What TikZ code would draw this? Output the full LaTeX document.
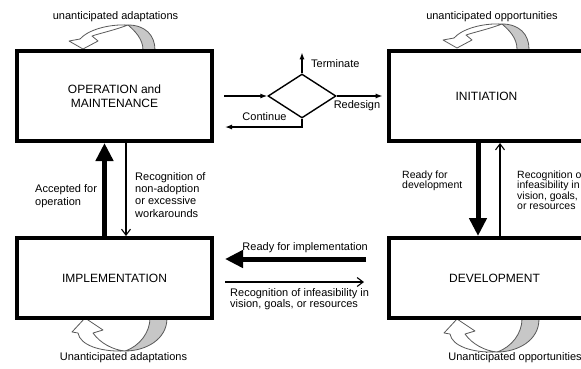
\documentclass[tikz,border=0pt]{standalone}
\usepackage{fontspec}
\setmainfont{Liberation Sans}
\usetikzlibrary{arrows.meta,shapes.geometric,calc}
\begin{document}
\begin{tikzpicture}[x=1pt,y=-1pt,
  box/.style={draw, line width=4pt, minimum width=195pt, inner sep=0pt, align=center, font=\fontsize{12}{14.5}\selectfont},
  lbl/.style={inner sep=0pt, align=left, font=\fontsize{11}{12.4}\selectfont},
  lblr/.style={inner sep=0pt, align=left, font=\fontsize{10.5}{10.5}\selectfont},
  thickarr/.style={line width=5pt, -{Triangle[length=18pt,width=17pt]}},
  thinarr/.style={line width=1.1pt, -{Straight Barb[length=6pt,width=9pt]}},
  smallarr/.style={line width=1.3pt, -{Latex[length=7pt,width=5pt]}},
  loopline/.style={draw=black!65, line width=0.8pt, line join=round},
  bottomloop/.pic={
    \fill[black!22] (65,-2) -- (65,0) .. controls (65,14) and (55,28) .. (40,33) .. controls (60,33) and (82,22) .. (82,0) -- (82,-2) -- cycle;
    \draw[loopline] (65,-2) -- (65,0) .. controls (65,14) and (55,28) .. (40,33) .. controls (60,33) and (82,22) .. (82,0) -- (82,-2);
    \filldraw[loopline, fill=white] (40,33) .. controls (15,34) and (-5,27) .. (-7,15) -- (-13,14) -- (0,0) -- (18,12) -- (8,15) .. controls (15,25) and (28,32) .. (40,33) -- cycle;
  },
  toploop/.pic={
    \fill[black!22] (60,2) -- (60,1) .. controls (60,-10) and (52,-18) .. (45,-24) .. controls (62,-24) and (72,-14) .. (72,1) -- (72,2) -- cycle;
    \draw[loopline] (60,2) -- (60,1) .. controls (60,-10) and (52,-18) .. (45,-24) .. controls (62,-24) and (72,-14) .. (72,1) -- (72,2);
    \filldraw[loopline, fill=white] (45,-24) .. controls (25,-25) and (5,-19) .. (-3,-10) -- (-14,-8) -- (0,0) -- (15,-8) -- (9,-13) .. controls (18,-16) and (32,-19) .. (45,-24) -- cycle;
  }
]
\useasboundingbox[fill=white] (0,0) rectangle (581,368);

% loop arrows
\pic at (83,49) {toploop};
\pic at (457,48) {toploop};
\pic at (85,318) {bottomloop};
\pic at (457,319) {bottomloop};

% boxes
\node[box, minimum height=90pt] (op) at (114.5,96) {OPERATION and\\MAINTENANCE};
\node[box, minimum height=90pt] (init) at (486.5,96) {INITIATION};
\node[box, minimum height=80pt] (impl) at (114.5,278) {IMPLEMENTATION};
\node[box, minimum height=80pt] (dev) at (486.5,278) {\hspace*{16pt}DEVELOPMENT};

% decision diamond
\node[draw, diamond, line width=1.4pt, minimum width=68pt, minimum height=44pt, inner sep=0pt] (d) at (302,96) {};
\draw[smallarr] ([xshift=10pt]op.east) -- (d.west);
\draw[smallarr] (d.north) -- ([yshift=21pt]d.north);
\draw[smallarr] (d.east) -- ([xshift=46pt]d.east);
\draw[smallarr] (d.south) |- ([xshift=11pt,yshift=-31pt]op.east);

% vertical connectors
\draw[thickarr] ([xshift=-10pt]impl.north) -- ([xshift=-10pt]op.south);
\draw[thinarr] ([xshift=11.5pt]op.south) -- ([xshift=11.5pt]impl.north);
\draw[thickarr] ([xshift=-8.5pt]init.south) -- ([xshift=-8.5pt]dev.north);
\draw[thinarr] ([xshift=13.5pt]dev.north) -- ([xshift=13.5pt]init.south);

% horizontal connectors
\draw[thickarr] ([xshift=-21pt,yshift=19pt]dev.west) -- ([xshift=11pt,yshift=19pt]impl.east);
\draw[thinarr] ([xshift=11pt,yshift=-4pt]impl.east) -- ([xshift=-23pt,yshift=-4pt]dev.west);

% labels
\node[lbl, anchor=base] (ua) at (115.5,19) {unanticipated adaptations};
\node[lbl, anchor=base] (uo) at (492,19) {unanticipated opportunities};
\node[lbl, anchor=base] (ua2) at (123.5,360) {Unanticipated adaptations};
\node[lbl, anchor=base] (uo2) at (515,360) {Unanticipated opportunities};
\node[lbl, anchor=base west] (term) at (311,67) {Terminate};
\node[lbl, anchor=base] (redes) at (357,108) {Redesign};
\node[lbl, anchor=base] (cont) at (264.5,120) {Continue};
\node[lbl, anchor=base east] (rfi) at (368,250) {Ready for implementation};
\node[lbl, anchor=north west] (rno) at (135,172) {Recognition of\\non-adoption\\or excessive\\workarounds};
\node[lbl, anchor=north west] (acc) at (35,184.5) {Accepted for\\operation};
\node[lblr, anchor=north west] (rfd) at (402,170.3) {Ready for\\development};
\node[lblr, anchor=north west] (rinf) at (517,170.3) {Recognition of\\infeasibility in\\vision, goals,\\or resources};
\node[lbl, anchor=north west, font=\fontsize{11}{11}\selectfont] (rinf2) at (230,288) {Recognition of infeasibility in\\vision, goals, or resources};
\end{tikzpicture}
\end{document}
